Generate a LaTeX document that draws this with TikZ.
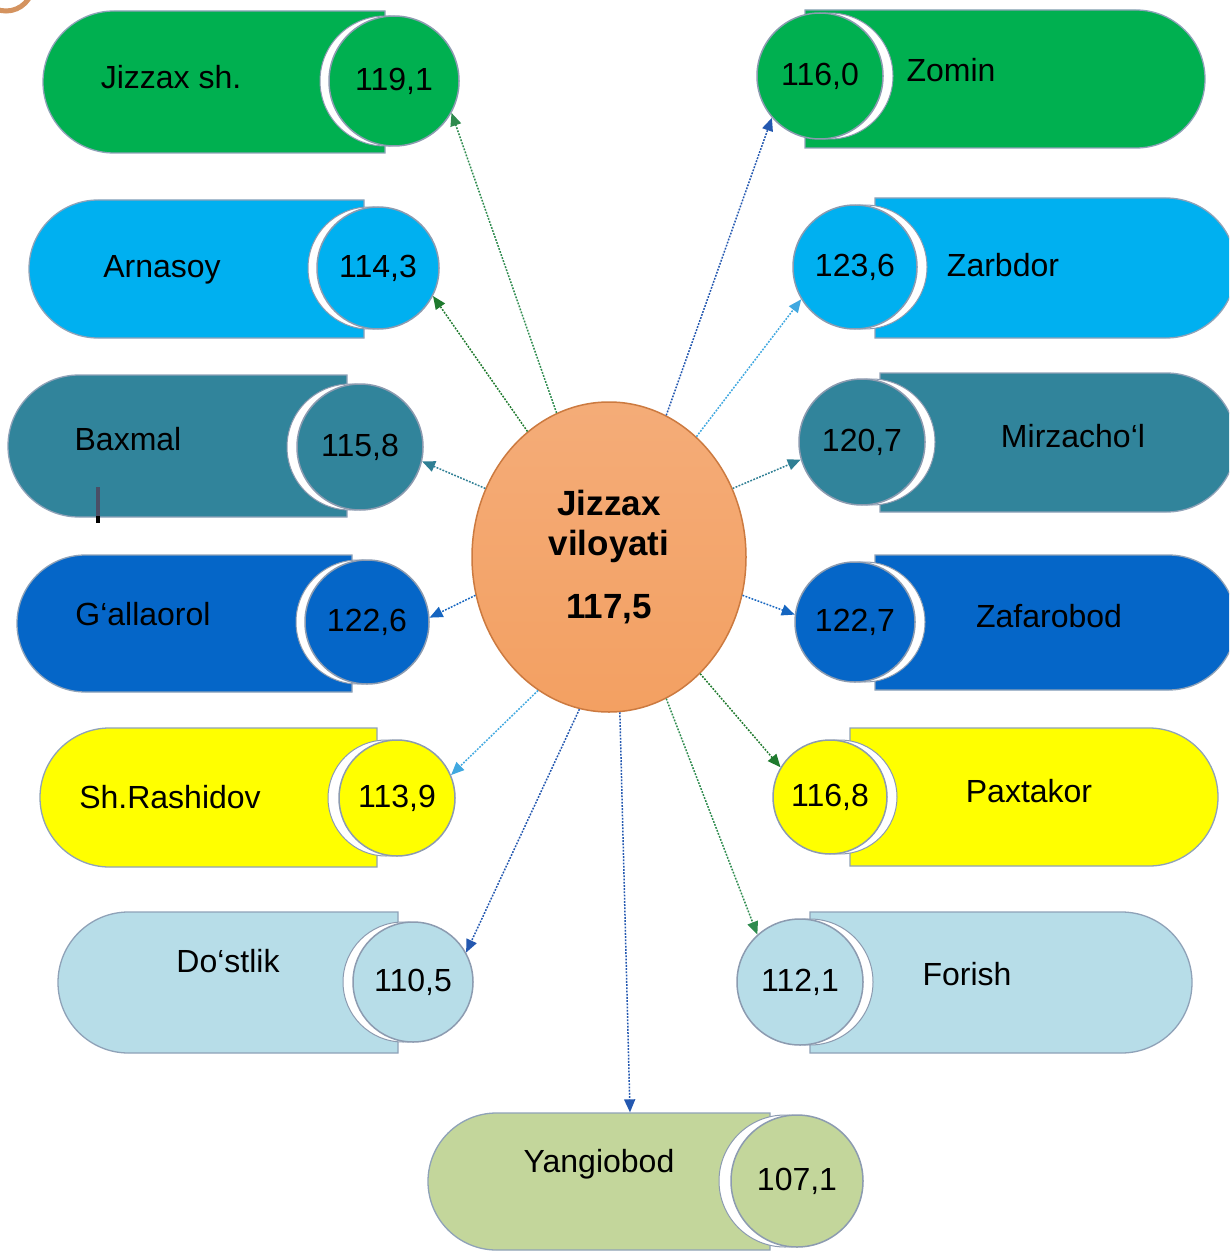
\documentclass[tikz,border=0pt]{standalone}
\usepackage{fontspec}
\setmainfont{Liberation Sans}
\usetikzlibrary{shapes.misc,shapes.geometric,arrows.meta}
\definecolor{cgreen}{HTML}{00B050}
\definecolor{csky}{HTML}{00B0F0}
\definecolor{cteal}{HTML}{31849B}
\definecolor{cblue}{HTML}{0566C8}
\definecolor{cyel}{HTML}{FFFF00}
\definecolor{cpale}{HTML}{B7DDE8}
\definecolor{colive}{HTML}{C3D69B}
\definecolor{pillline}{HTML}{8FA2B8}
\definecolor{circline}{HTML}{8C9BB0}
\definecolor{orA}{HTML}{F4AC78}
\definecolor{orB}{HTML}{F28C3C}
\definecolor{orC}{HTML}{F3A062}
\definecolor{orEdge}{HTML}{CC7A40}
\definecolor{ring}{HTML}{D4935F}
\definecolor{cursorc}{HTML}{4A4E66}
\definecolor{agA}{HTML}{2E8B4E}
\definecolor{agB}{HTML}{1F7A2E}
\definecolor{atl}{HTML}{2F7F94}
\definecolor{abl}{HTML}{1565C0}
\definecolor{alb}{HTML}{40A8E0}
\definecolor{abd}{HTML}{2458B0}
\tikzset{
  pillL/.style={rounded rectangle, rounded rectangle right arc=none, draw=pillline, line width=1.3pt, inner sep=0pt},
  pillR/.style={rounded rectangle, rounded rectangle left arc=none, draw=pillline, line width=1.3pt, inner sep=0pt},
  gapc/.style={circle, fill=white, draw=circline, line width=1pt, inner sep=0pt},
  valc/.style={circle, draw=circline, line width=1.5pt, inner sep=0pt, text=black, font=\fontsize{32}{38}\selectfont},
  lbl/.style={anchor=base, inner sep=0pt, text=black, font=\fontsize{32}{38}\selectfont},
  link/.style={line width=1.5pt, dash pattern=on 1.8pt off 1.4pt, -{Triangle[length=13pt,width=11pt]}},
}
\begin{document}
\begin{tikzpicture}[x=1pt,y=-1pt]
\clip (0,0) rectangle (1229,1252);
\fill[white] (0,0) rectangle (1229,1252);
\draw[ring, line width=5pt] (6,-16) circle[radius=27];

% ---- left column
\node[pillL, fill=cgreen, minimum width=342, minimum height=142] (p1) at (214,82) {};
\node[gapc, minimum size=130] (g1) at (385,81) {};
\node[valc, fill=cgreen, minimum size=130] (v1) at (394,81) {119,1};
\node[lbl] (n1) at (171,89) {Jizzax sh.};

\node[pillL, fill=csky, minimum width=335, minimum height=138] (p2) at (196.5,269) {};
\node[gapc, minimum size=122] (g2) at (369,268) {};
\node[valc, fill=csky, minimum size=122] (v2) at (378,268) {114,3};
\node[lbl] (n2) at (162,277) {Arnasoy};

\node[pillL, fill=cteal, minimum width=339, minimum height=142] (p3) at (177.5,446) {};
\node[gapc, minimum size=126] (g3) at (350,447) {};
\node[valc, fill=cteal, minimum size=126] (v3) at (360,447) {115,8};
\node[lbl] (n3) at (128,450) {Baxmal};
\draw[line width=3.5pt, draw=cursorc] (98,487) -- (98,516);
\draw[line width=3.5pt, draw=black] (98,516) -- (98,523);

\node[pillL, fill=cblue, minimum width=335, minimum height=137] (p4) at (184.5,623.5) {};
\node[gapc, minimum size=124] (g4) at (358,622) {};
\node[valc, fill=cblue, minimum size=124] (v4) at (367,622) {122,6};
\node[lbl] (n4) at (143,625) {G‘allaorol};

\node[pillL, fill=cyel, minimum width=337, minimum height=139] (p5) at (208.5,797.5) {};
\node[gapc, minimum size=116] (g5) at (386,798) {};
\node[valc, fill=cyel, minimum size=116] (v5) at (397,798) {113,9};
\node[lbl] (n5) at (170,808) {Sh.Rashidov};

\node[pillL, fill=cpale, minimum width=340, minimum height=141] (p6) at (228,982.5) {};
\node[gapc, minimum size=120] (g6) at (403,982) {};
\node[valc, fill=cpale, minimum size=120] (v6) at (413,982) {110,5};
\node[lbl] (n6) at (228,972) {Do‘stlik};

% ---- bottom
\node[pillL, fill=colive, minimum width=342, minimum height=137] (p7) at (599,1181.5) {};
\node[gapc, minimum size=132] (g7) at (785,1181) {};
\node[valc, fill=colive, minimum size=132] (v7) at (797,1181) {107,1};
\node[lbl] (n7) at (599,1172) {Yangiobod};

% ---- right column
\node[pillR, fill=cgreen, minimum width=400, minimum height=138] (p8) at (1005,79) {};
\node[gapc, minimum size=126] (g8) at (830,76) {};
\node[valc, fill=cgreen, minimum size=126] (v8) at (820,76) {116,0};
\node[lbl] (n8) at (951,82) {Zomin};

\node[pillR, fill=csky, minimum width=361, minimum height=140] (p9) at (1055.5,268) {};
\node[gapc, minimum size=124] (g9) at (865,267) {};
\node[valc, fill=csky, minimum size=124] (v9) at (855,267) {123,6};
\node[lbl] (n9) at (1003,276) {Zarbdor};

\node[pillR, fill=cteal, minimum width=356, minimum height=139] (p10) at (1058,442.5) {};
\node[gapc, minimum size=126] (g10) at (872,442) {};
\node[valc, fill=cteal, minimum size=126] (v10) at (862,442) {120,7};
\node[lbl] (n10) at (1073,447) {Mirzacho‘l};

\node[pillR, fill=cblue, minimum width=361, minimum height=135] (p11) at (1055.5,622.5) {};
\node[gapc, minimum size=120] (g11) at (865,622) {};
\node[valc, fill=cblue, minimum size=120] (v11) at (855,622) {122,7};
\node[lbl] (n11) at (1049,627) {Zafarobod};

\node[pillR, fill=cyel, minimum width=368, minimum height=138] (p12) at (1034,797) {};
\node[gapc, minimum size=114] (g12) at (840,797) {};
\node[valc, fill=cyel, minimum size=114] (v12) at (830,797) {116,8};
\node[lbl] (n12) at (1029,802) {Paxtakor};

\node[pillR, fill=cpale, minimum width=382, minimum height=141] (p13) at (1001,982.5) {};
\node[gapc, minimum size=126] (g13) at (810,982) {};
\node[valc, fill=cpale, minimum size=126] (v13) at (800,982) {112,1};
\node[lbl] (n13) at (967,985) {Forish};

% ---- centre
\node[ellipse, minimum width=274, minimum height=310, inner sep=0pt,
      top color=orA, middle color=orB, bottom color=orC, draw=orEdge, line width=1.5pt,
      align=center, text=black, font=\bfseries\fontsize{35}{40}\selectfont] (c) at (609,557)
      {Jizzax\\viloyati\\[23pt]117,5};

% ---- connectors
\draw[link, agA]  (c.110)   -- (v1.-29);
\draw[link, agB]  (c.123)   -- (v2.-27);
\draw[link, atl]  (c.151.5) -- (v3.-13);
\draw[link, abl]  (c.196)   -- (v4.4);
\draw[link, alb]  (c.242)   -- (v5.23);
\draw[link, abd]  (c.259)   -- (v6.29);
\draw[link, abd]  (c.274.6) -- ([xshift=31pt]p7.north);
\draw[link, agA]  (c.-68)   -- (v13.132);
\draw[link, agB]  (c.-52.6) -- (v12.149);
\draw[link, abl]  (c.-16.4) -- (v11.173);
\draw[link, atl]  (c.29.4)  -- (v10.196);
\draw[link, alb]  (c.54)    -- (v9.211);
\draw[link, abd]  (c.68.6)  -- (v8.221);
\end{tikzpicture}
\end{document}
